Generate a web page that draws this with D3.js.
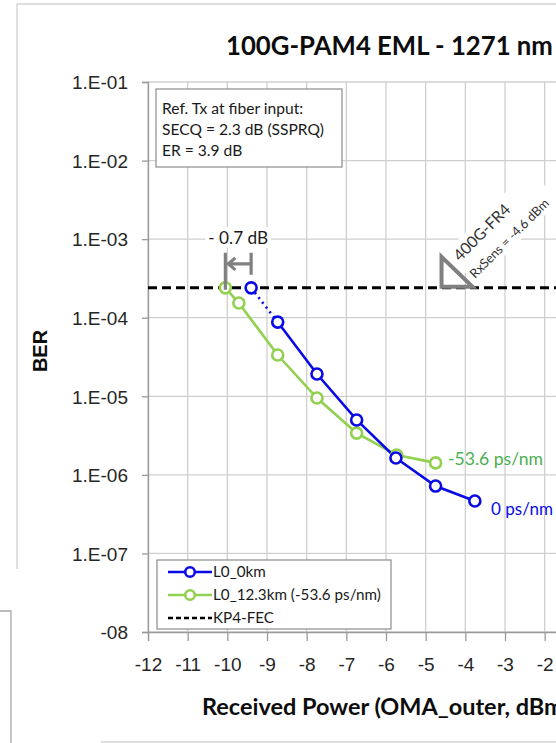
<!DOCTYPE html>
<html>
<head>
<meta charset="utf-8">
<script src="https://cdn.jsdelivr.net/npm/d3@7"></script>
<style>
  html, body { margin: 0; padding: 0; background: #fff; }
  svg { display: block; }
</style>
</head>
<body>
<script>
// Received power axis ticks (dBm) and BER decades
const powerTicks = [-12, -11, -10, -9, -8, -7, -6, -5, -4, -3, -2];
const berDecades = [1e-1, 1e-2, 1e-3, 1e-4, 1e-5, 1e-6, 1e-7, 1e-8];
const berTickLabels = ["1.E-01", "1.E-02", "1.E-03", "1.E-04", "1.E-05", "1.E-06", "1.E-07", "1.E-08"];

// L0 back-to-back (0 km)
const power0km = [-9.4, -8.73, -7.74, -6.74, -5.75, -4.75, -3.76];
const ber0km   = [2.4e-4, 8.8e-5, 1.92e-5, 5.0e-6, 1.64e-6, 7.2e-7, 4.65e-7];

// L0 after 12.3 km (-53.6 ps/nm)
const power12km = [-10.05, -9.71, -8.73, -7.74, -6.74, -5.73, -4.75];
const ber12km   = [2.4e-4, 1.54e-4, 3.35e-5, 9.5e-6, 3.4e-6, 1.79e-6, 1.42e-6];

const kp4FecBer = 2.4e-4;
const fr4RxSens = -4.6;

const seriesNames = ["L0_0km", "L0_12.3km (-53.6 ps/nm)", "KP4-FEC"];
const refTxLines = ["Ref. Tx at fiber input:", "SECQ = 2.3 dB (SSPRQ)", "ER = 3.9 dB"];

const W = 556, H = 743;
const BLUE = "#0a0ae6", GREEN = "#92d050", GRID = "#cfcfcf", AXIS = "#9a9a9a", ANNO = "#808080";

const svg = d3.select("body").append("svg").attr("width", W).attr("height", H);

const x = d3.scaleLinear().domain([-12, 0]).range([148, 624]);
const y = d3.scaleLog().domain([1e-1, 1e-8]).range([82, 632]);

// scale a text's font size so it spans the given width
function fit(sel, width) {
  const fs = +sel.attr("font-size");
  const w = sel.node().getComputedTextLength();
  if (w > 0) sel.attr("font-size", fs * width / w);
  return sel;
}

// outer chart frame
svg.append("rect").attr("x", 17).attr("y", 4).attr("width", 700).attr("height", 738)
  .attr("fill", "none").attr("stroke", "#d6d6d6").attr("stroke-width", 1.5);

// gridlines
svg.append("g").selectAll("line").data(powerTicks).join("line")
  .attr("x1", d => x(d)).attr("x2", d => x(d))
  .attr("y1", y(1e-1)).attr("y2", y(1e-8))
  .attr("stroke", GRID).attr("stroke-width", 1.3);
svg.append("g").selectAll("line").data(berDecades).join("line")
  .attr("x1", x(-12)).attr("x2", W + 10)
  .attr("y1", d => y(d)).attr("y2", d => y(d))
  .attr("stroke", GRID).attr("stroke-width", 1.3);

// axes
const yAxis = d3.axisLeft(y).tickValues(berDecades).tickSize(6)
  .tickFormat((d, i) => berTickLabels[i]);
const gy = svg.append("g").attr("transform", `translate(${x(-12)},0)`).call(yAxis);
gy.select(".domain").attr("stroke", AXIS).attr("stroke-width", 1.3);
gy.selectAll(".tick line").attr("stroke", AXIS).attr("stroke-width", 1.3);
gy.selectAll(".tick text").attr("x", -20).attr("dy", "0.36em")
  .attr("font-family", "'Liberation Sans', Arial, sans-serif").attr("font-size", 19)
  .attr("fill", "#262626");

const xAxis = d3.axisBottom(x).tickValues(powerTicks).tickSize(9).tickFormat(d3.format("d"));
const gx = svg.append("g").attr("transform", `translate(0,${y(1e-8)})`).call(xAxis);
gx.select(".domain").attr("stroke", AXIS).attr("stroke-width", 1.3);
gx.selectAll(".tick line").attr("stroke", AXIS).attr("stroke-width", 1.3);
gx.selectAll(".tick text").attr("y", 39).attr("dy", 0)
  .attr("font-family", "'Liberation Sans', Arial, sans-serif").attr("font-size", 19)
  .attr("fill", "#262626").text(d => String(d));

// white box behind rotated 400G-FR4 annotation
const fr4 = svg.append("g").attr("transform", "translate(460,262) rotate(-45)");
fr4.append("rect").attr("x", -4).attr("y", -17).attr("width", 118).attr("height", 44).attr("fill", "#fff");

// KP4-FEC threshold
svg.append("line")
  .attr("x1", x(-12)).attr("x2", W + 10)
  .attr("y1", y(kp4FecBer)).attr("y2", y(kp4FecBer))
  .attr("stroke", "#000").attr("stroke-width", 3).attr("stroke-dasharray", "9,5");

// series
const line = d3.line().x(d => x(d[0])).y(d => y(d[1]));
const pts0 = power0km.map((p, i) => [p, ber0km[i]]);
const pts12 = power12km.map((p, i) => [p, ber12km[i]]);

svg.append("path").attr("d", line(pts12)).attr("fill", "none")
  .attr("stroke", GREEN).attr("stroke-width", 2.6);
svg.append("path").attr("d", line(pts0.slice(0, 2))).attr("fill", "none")
  .attr("stroke", BLUE).attr("stroke-width", 2.6).attr("stroke-dasharray", "2,4");
svg.append("path").attr("d", line(pts0.slice(1))).attr("fill", "none")
  .attr("stroke", BLUE).attr("stroke-width", 2.6);

svg.append("g").selectAll("circle").data(pts12).join("circle")
  .attr("cx", d => x(d[0])).attr("cy", d => y(d[1])).attr("r", 5.5)
  .attr("fill", "#fff").attr("stroke", GREEN).attr("stroke-width", 2.6);
svg.append("g").selectAll("circle").data(pts0).join("circle")
  .attr("cx", d => x(d[0])).attr("cy", d => y(d[1])).attr("r", 5.5)
  .attr("fill", "#fff").attr("stroke", BLUE).attr("stroke-width", 2.6);

// -0.7 dB penalty bracket
const xa = x(power12km[0]), xb = x(power0km[0]), yk = y(kp4FecBer);
svg.append("path")
  .attr("d", `M${xa},${yk + 2}V${yk - 35}M${xb},${yk - 13}V${yk - 35}` +
             `M${xb},${yk - 24}H${xa + 2}M${xa + 10},${yk - 30}L${xa + 3},${yk - 24}L${xa + 10},${yk - 18}`)
  .attr("fill", "none").attr("stroke", ANNO).attr("stroke-width", 3.2);
const penaltyBg = svg.append("rect").attr("fill", "#fff");
const penalty = svg.append("text").attr("x", (xa + xb) / 2).attr("y", 244)
  .attr("text-anchor", "middle").attr("font-family", "Lato, sans-serif").attr("font-size", 17)
  .attr("fill", "#1a1a1a").text("- 0.7 dB");
fit(penalty, 60);
{ const b = penalty.node().getBBox(); penaltyBg.attr("x", b.x - 3).attr("y", b.y).attr("width", b.width + 6).attr("height", b.height); }

// 400G-FR4 sensitivity marker
const xr = x(fr4RxSens);
svg.append("path").attr("d", `M${xr},${yk - 1}V${yk - 31}L${xr + 31},${yk - 1}Z`)
  .attr("fill", "none").attr("stroke", ANNO).attr("stroke-width", 4).attr("stroke-linejoin", "miter");
fit(fr4.append("text").attr("x", 0).attr("y", 0).attr("font-family", "Lato, sans-serif")
  .attr("font-size", 17).attr("fill", "#333").text("400G-FR4"), 73);
fit(fr4.append("text").attr("x", -1.4).attr("y", 22.6).attr("font-family", "Lato, sans-serif")
  .attr("font-size", 14).attr("fill", "#333").text("RxSens = -4.6 dBm"), 106);

// series end labels
const lblG = svg.append("text").attr("x", 448).attr("y", 465)
  .attr("font-family", "Lato, sans-serif").attr("font-size", 17).attr("fill", "#4caf50").text("-53.6 ps/nm");
fit(lblG, 95);
const lblB = svg.append("text").attr("x", 491).attr("y", 515)
  .attr("font-family", "Lato, sans-serif").attr("font-size", 17).attr("fill", BLUE).text("0 ps/nm");
fit(lblB, 62);

// reference transmitter note
svg.append("rect").attr("x", 156).attr("y", 89).attr("width", 186).attr("height", 78)
  .attr("fill", "#fff").attr("stroke", "#8c8c8c").attr("stroke-width", 1.2);
const noteLines = svg.append("g").selectAll("text").data(refTxLines).join("text")
  .attr("x", 162).attr("y", (d, i) => 114 + i * 21)
  .attr("font-family", "Lato, sans-serif").attr("font-size", 17).attr("fill", "#1a1a1a").text(d => d);
{
  const ref = d3.select(noteLines.nodes()[1]);
  fit(ref, 162);
  noteLines.attr("font-size", ref.attr("font-size"));
}

// legend
const lg = svg.append("g");
lg.append("rect").attr("x", 157).attr("y", 560).attr("width", 234).attr("height", 69)
  .attr("fill", "#fff").attr("stroke", "#8c8c8c").attr("stroke-width", 1.2);
const rows = [572, 595, 618];
[[BLUE, null], [GREEN, null], ["#000", "5,3"]].forEach(([c, dash], i) => {
  lg.append("line").attr("x1", 168).attr("x2", 212).attr("y1", rows[i]).attr("y2", rows[i])
    .attr("stroke", c).attr("stroke-width", 2.6).attr("stroke-dasharray", dash);
  if (i < 2) lg.append("circle").attr("cx", 190).attr("cy", rows[i]).attr("r", 4.8)
    .attr("fill", "#fff").attr("stroke", c).attr("stroke-width", 2.6);
});
const legTexts = lg.selectAll("text.lt").data(seriesNames).join("text").attr("class", "lt")
  .attr("x", 213).attr("y", (d, i) => rows[i] + 5)
  .attr("font-family", "Lato, sans-serif").attr("font-size", 14).attr("fill", "#1a1a1a").text(d => d);
{
  const ref = d3.select(legTexts.nodes()[1]);
  fit(ref, 168);
  legTexts.attr("font-size", ref.attr("font-size"));
}

// titles
fit(svg.append("text").attr("x", 226).attr("y", 55)
  .attr("font-family", "Lato, sans-serif").attr("font-weight", "bold").attr("font-size", 27)
  .attr("fill", "#0d0d0d").text("100G-PAM4 EML - 1271 nm"), 327);
fit(svg.append("text").attr("x", 202).attr("y", 715)
  .attr("font-family", "Lato, sans-serif").attr("font-weight", "bold").attr("font-size", 24)
  .attr("fill", "#0d0d0d").text("Received Power (OMA_outer, dBm)"), 368);
svg.append("text").attr("transform", "translate(47,351) rotate(-90)")
  .attr("text-anchor", "middle").attr("font-family", "'Liberation Sans', Arial, sans-serif")
  .attr("font-weight", "bold").attr("font-size", 20).attr("fill", "#0d0d0d").text("BER");

// neighbouring panel overlapping the lower-left corner
svg.append("rect").attr("x", 0).attr("y", 569).attr("width", 101).attr("height", H - 569).attr("fill", "#fff");
svg.append("path").attr("d", `M0,611H11V${H}`).attr("fill", "none")
  .attr("stroke", "#a8a8a8").attr("stroke-width", 1.3);
</script>
</body>
</html>
